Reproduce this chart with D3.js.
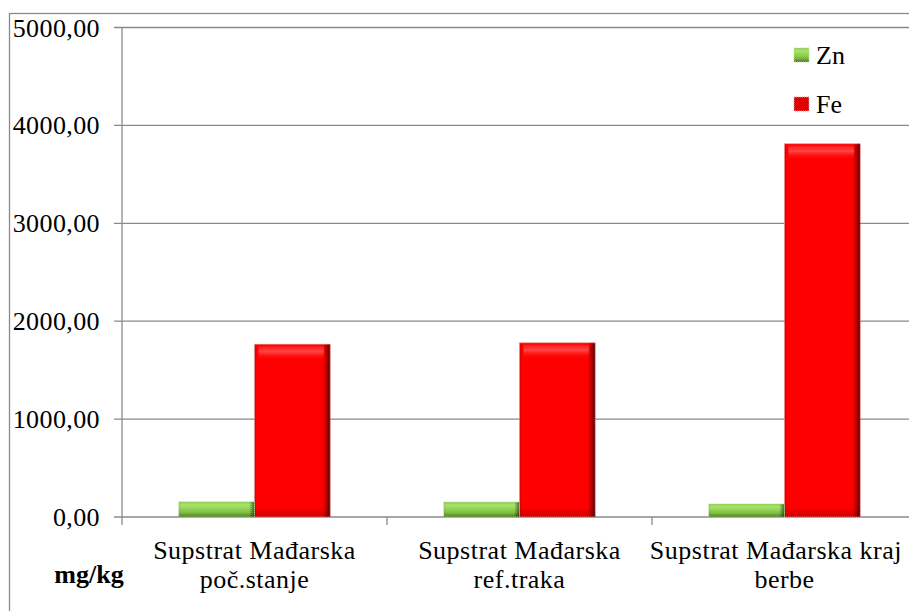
<!DOCTYPE html>
<html>
<head>
<meta charset="utf-8">
<script src="https://cdn.jsdelivr.net/npm/d3@7"></script>
</head>
<body style="margin:0">
<svg id="gradients" width="0" height="0" style="position:absolute"></svg>
<div id="chart"></div>
<script>
// Data
const categories = ['Supstrat Mađarska poč.stanje', 'Supstrat Mađarska ref.traka', 'Supstrat Mađarska kraj berbe'];
const categoryLines = [
    ['Supstrat Mađarska', 'poč.stanje'],
    ['Supstrat Mađarska', 'ref.traka'],
    ['Supstrat Mađarska kraj', 'berbe']
];
const series = ['Zn', 'Fe'];
const znValues = [155, 153, 133];
const feValues = [1765, 1780, 3813];
const yTicks = [0, 1000, 2000, 3000, 4000, 5000];
const unitLabel = 'mg/kg';

const W = 909, H = 611;
const plot = { left: 122, right: 917, top: 27.5, bottom: 517 };
const serif = '"Liberation Serif", Tinos, "Times New Roman", serif';

// Gradients live in their own hidden svg
const defs = d3.select('#gradients').append('defs');

function gradient(id, vertical, stops) {
    const g = defs.append('linearGradient').attr('id', id);
    if (vertical) g.attr('x1', 0).attr('y1', 0).attr('x2', 0).attr('y2', 1);
    g.selectAll('stop')
        .data(stops)
        .enter().append('stop')
            .attr('offset', d => d[0])
            .attr('stop-color', d => d[1])
            .attr('stop-opacity', d => d[2]);
}

gradient('redH', false, [[0, '#000', 0.2], [0.03, '#000', 0], [0.9, '#000', 0], [0.96, '#000', 0.35], [1, '#000', 0.7]]);
gradient('redTop', true, [[0, '#ff1a1a', 1], [0.4, '#ff4545', 1], [1, '#ff0000', 0]]);
gradient('redBottom', true, [[0, '#900000', 0], [1, '#900000', 0.45]]);
gradient('greenV', true, [[0, '#8ccc4c', 1], [0.2, '#a8e46c', 1], [0.45, '#94d455', 1], [0.7, '#7fbf42', 1], [1, '#4f7a28', 1]]);
gradient('greenH', false, [[0, '#000', 0.1], [0.03, '#000', 0], [0.93, '#000', 0], [1, '#000', 0.55]]);

const svg = d3.select('#chart')
    .append('svg')
        .attr('width', W)
        .attr('height', H)
        .style('display', 'block')
        .style('font-family', serif, 'important');

// Outer frame (cropped on the right and bottom)
svg.append('rect')
    .attr('x', 9.5)
    .attr('y', 13.5)
    .attr('width', 960)
    .attr('height', 700)
    .attr('fill', 'none')
    .attr('stroke', '#8a8a8a')
    .attr('stroke-width', 1.3);

// Scales
const x = d3.scaleBand()
    .domain(categories)
    .range([plot.left, plot.right])
    .paddingInner(0)
    .paddingOuter(0);

const xInner = d3.scaleBand()
    .domain(series)
    .range([0, x.bandwidth()])
    .paddingInner(0)
    .paddingOuter(0.75);

const y = d3.scaleLinear()
    .domain([0, 5000])
    .range([plot.bottom, plot.top]);

const fmt = v => d3.format('.2f')(v).replace('.', ',');

// Gridlines
svg.append('g')
    .selectAll('line')
    .data(yTicks)
    .enter()
    .append('line')
        .attr('x1', plot.left - 8)
        .attr('x2', W + 10)
        .attr('y1', d => y(d))
        .attr('y2', d => y(d))
        .attr('stroke', '#8a8a8a')
        .attr('stroke-width', 1.3);

// Y axis line
svg.append('line')
    .attr('x1', plot.left)
    .attr('x2', plot.left)
    .attr('y1', plot.top)
    .attr('y2', plot.bottom + 8)
    .attr('stroke', '#8a8a8a')
    .attr('stroke-width', 1.3);

// Category tick marks
svg.append('g')
    .selectAll('line')
    .data(categories.slice(1))
    .enter()
    .append('line')
        .attr('x1', d => x(d))
        .attr('x2', d => x(d))
        .attr('y1', plot.bottom)
        .attr('y2', plot.bottom + 8)
        .attr('stroke', '#8a8a8a')
        .attr('stroke-width', 1.3);

// Y tick labels
svg.append('g')
    .selectAll('text')
    .data(yTicks)
    .enter()
    .append('text')
        .attr('x', 100)
        .attr('y', d => y(d) + 9)
        .style('font-family', serif, 'important')
        .style('font-size', '26px')
        .style('letter-spacing', '0.4px')
        .attr('text-anchor', 'end')
        .text(d => fmt(d));

// Bars
const rows = categories.map((c, i) => ({ category: c, Zn: znValues[i], Fe: feValues[i] }));

const groups = svg.append('g')
    .selectAll('g')
    .data(rows)
    .enter()
    .append('g')
        .attr('transform', d => `translate(${x(d.category)},0)`);

// Fe bars
const fe = groups.append('g');
fe.append('rect')
    .attr('x', xInner('Fe'))
    .attr('y', d => y(d.Fe))
    .attr('width', xInner.bandwidth())
    .attr('height', d => y(0) - y(d.Fe))
    .attr('fill', '#ff0000');
fe.append('rect')
    .attr('x', xInner('Fe') + 4)
    .attr('y', d => y(d.Fe) + 2)
    .attr('width', xInner.bandwidth() - 10)
    .attr('height', 14)
    .attr('fill', 'url(#redTop)');
fe.append('rect')
    .attr('x', xInner('Fe'))
    .attr('y', d => y(0) - 10)
    .attr('width', xInner.bandwidth())
    .attr('height', 10)
    .attr('fill', 'url(#redBottom)');
fe.append('rect')
    .attr('x', xInner('Fe'))
    .attr('y', d => y(d.Fe))
    .attr('width', xInner.bandwidth())
    .attr('height', d => y(0) - y(d.Fe))
    .attr('fill', 'url(#redH)')
    .attr('stroke', '#e8a0a0')
    .attr('stroke-width', 1)
    .attr('stroke-dasharray', '1,1');

// Zn bars
const zn = groups.append('g');
zn.append('rect')
    .attr('x', xInner('Zn'))
    .attr('y', d => y(d.Zn))
    .attr('width', xInner.bandwidth())
    .attr('height', d => y(0) - y(d.Zn))
    .attr('fill', 'url(#greenV)');
zn.append('rect')
    .attr('x', xInner('Zn'))
    .attr('y', d => y(d.Zn))
    .attr('width', xInner.bandwidth())
    .attr('height', d => y(0) - y(d.Zn))
    .attr('fill', 'url(#greenH)')
    .attr('stroke', '#b8d89a')
    .attr('stroke-width', 1)
    .attr('stroke-dasharray', '1,1');

// Category labels, two lines each; kept inside the frame like Excel does
categoryLines.forEach((lines, i) => {
    lines.forEach((line, j) => {
        const cx = x(categories[i]) + x.bandwidth() / 2;
        const t = svg.append('text')
            .attr('x', cx)
            .attr('y', 559 + j * 29)
            .style('font-family', serif, 'important')
            .style('font-size', '26px')
            .style('letter-spacing', '0.5px')
            .attr('text-anchor', 'middle')
            .text(line);
        const over = cx + t.node().getComputedTextLength() / 2 - 902;
        if (over > 0) t.attr('x', cx - over);
    });
});

// Unit label
svg.append('text')
    .attr('x', 89)
    .attr('y', 583)
    .style('font-family', serif, 'important')
    .style('font-size', '26px')
    .style('font-weight', 'bold')
    .attr('text-anchor', 'middle')
    .text(unitLabel);

// Legend
const legendColors = { Zn: 'url(#greenV)', Fe: '#e00000' };
const legend = svg.append('g')
    .selectAll('g')
    .data(series)
    .enter()
    .append('g')
        .attr('transform', (d, i) => `translate(794,${48 + i * 49})`);

legend.append('rect')
    .attr('width', 15)
    .attr('height', 14)
    .attr('fill', d => legendColors[d])
    .attr('stroke', d => d === 'Zn' ? '#b8d89a' : '#f0a0a0')
    .attr('stroke-dasharray', '1,1');

legend.append('text')
    .attr('x', 22)
    .attr('y', 16)
    .style('font-family', serif, 'important')
    .style('font-size', '26px')
    .text(d => d);
</script>
</body>
</html>
